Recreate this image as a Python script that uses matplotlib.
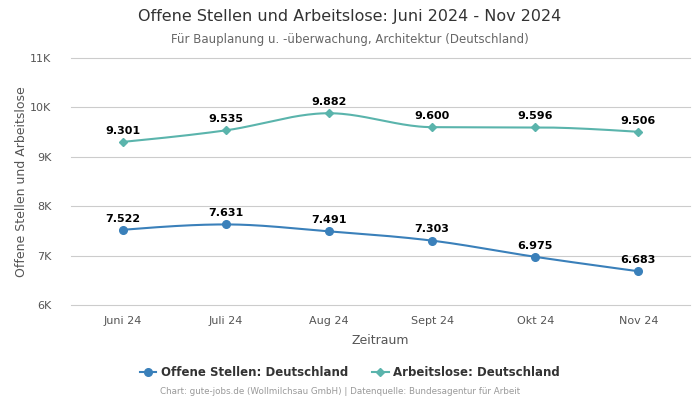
import numpy as np
import matplotlib
matplotlib.use("Agg")
import matplotlib.pyplot as plt
from matplotlib.lines import Line2D

categories = ["Juni 24", "Juli 24", "Aug 24", "Sept 24", "Okt 24", "Nov 24"]
offene = [7522, 7631, 7491, 7303, 6975, 6683]
arbeitslose = [9301, 9535, 9882, 9600, 9596, 9506]
yticks = [6000, 7000, 8000, 9000, 10000, 11000]
ytick_labels = ["6K", "7K", "8K", "9K", "10K", "11K"]

c_blue = "#3a80ba"
c_teal = "#5ab4ac"


def monotone(x, y, n=40):
    x = np.asarray(x, float); y = np.asarray(y, float)
    h = np.diff(x); d = np.diff(y) / h
    m = np.zeros_like(y)
    for i in range(1, len(y) - 1):
        s0, s1 = d[i - 1], d[i]
        p = (s0 * h[i] + s1 * h[i - 1]) / (h[i - 1] + h[i])
        m[i] = (np.sign(s0) + np.sign(s1)) * min(abs(s0), abs(s1), 0.5 * abs(p))
    m[0] = (3 * d[0] - m[1]) / 2
    m[-1] = (3 * d[-1] - m[-2]) / 2
    xs, ys = [], []
    for i in range(len(x) - 1):
        t = np.linspace(0, 1, n)
        hh = h[i]
        h00 = 2 * t**3 - 3 * t**2 + 1
        h10 = t**3 - 2 * t**2 + t
        h01 = -2 * t**3 + 3 * t**2
        h11 = t**3 - t**2
        xs.append(x[i] + t * hh)
        ys.append(h00 * y[i] + h10 * hh * m[i] + h01 * y[i + 1] + h11 * hh * m[i + 1])
    return np.concatenate(xs), np.concatenate(ys)


fig = plt.figure(figsize=(7, 4), dpi=100)
ax = fig.add_axes([71 / 700, 1 - 305 / 400, 619 / 700, 247 / 400])

xpos = np.arange(len(categories))
for vals, col, mk, ms in [(offene, c_blue, "o", 5.5), (arbeitslose, c_teal, "D", 4)]:
    sx, sy = monotone(xpos, vals)
    ax.plot(sx, sy, color=col, lw=1.5, zorder=3)
    ax.plot(xpos, vals, ls="none", marker=mk, ms=ms, color=col, zorder=4)
    for xi, v in zip(xpos, vals):
        ax.annotate(f"{v/1000:.3f}", (xi, v), xytext=(0, 4.5), textcoords="offset points",
                    ha="center", va="bottom", fontsize=8, fontweight="bold", color="black")

ax.set_xlim(-0.5, len(categories) - 0.5)
ax.set_ylim(6000, 11000)
ax.set_yticks(yticks)
ax.set_yticklabels(ytick_labels)
ax.set_xticks(xpos)
ax.set_xticklabels(categories)
ax.grid(axis="y", color="#cccccc", lw=0.8)
for gl in ax.get_ygridlines():
    gl.set_clip_on(False)
ax.set_axisbelow(True)
for s in ax.spines.values():
    s.set_visible(False)
ax.tick_params(axis="both", length=0, labelsize=8, colors="#555555", pad=8)
ax.tick_params(axis="y", pad=14)
ax.set_xlabel("Zeitraum", fontsize=9, color="#555555", labelpad=6)
ax.set_ylabel("Offene Stellen und Arbeitslose", fontsize=9, color="#555555", labelpad=2)

fig.text(0.5, 1 - 17 / 400, "Offene Stellen und Arbeitslose: Juni 2024 - Nov 2024",
         ha="center", va="center", fontsize=11.5, color="#333333")
fig.text(0.5, 1 - 39 / 400, "Für Bauplanung u. -überwachung, Architektur (Deutschland)",
         ha="center", va="center", fontsize=8.5, color="#666666")

handles = [Line2D([], [], color=c_blue, marker="o", ms=5.5, lw=1.5),
           Line2D([], [], color=c_teal, marker="D", ms=4, lw=1.5)]
leg = fig.legend(handles, ["Offene Stellen: Deutschland", "Arbeitslose: Deutschland"],
                 loc="center", bbox_to_anchor=(0.5, 1 - 373 / 400), ncol=2, frameon=False,
                 prop={"size": 8.5, "weight": "bold"}, handlelength=1.4, columnspacing=2.0,
                 handletextpad=0.4)
for t in leg.get_texts():
    t.set_color("#333333")

fig.text(340 / 700, 1 - 392 / 400, "Chart: gute-jobs.de (Wollmilchsau GmbH) | Datenquelle: Bundesagentur für Arbeit",
         ha="center", va="center", fontsize=6.3, color="#999999")

fig.savefig("out.png", dpi=100)
